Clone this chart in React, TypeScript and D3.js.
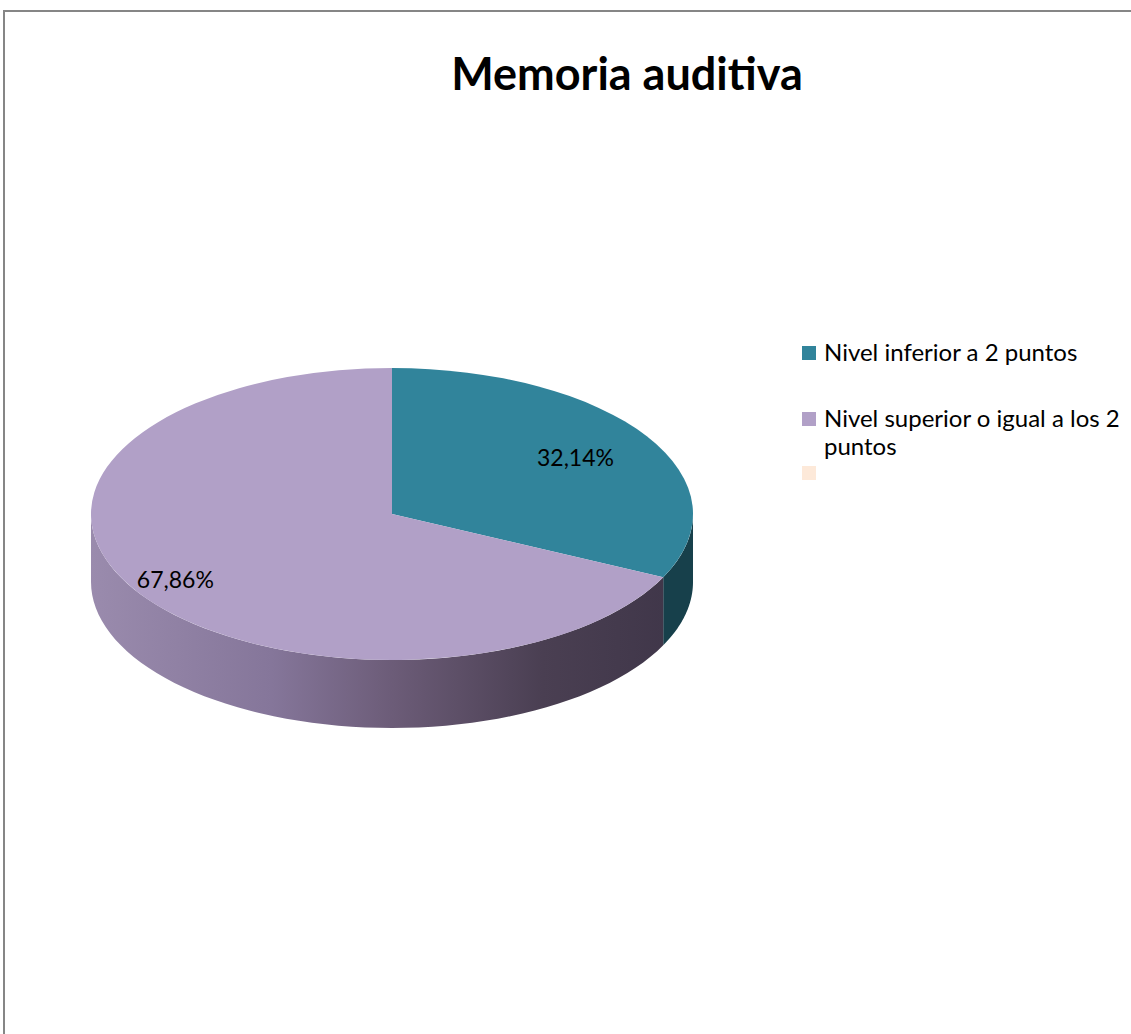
import React from 'react';
import * as d3 from 'd3';

const title = 'Memoria auditiva';
const categories = ['Nivel inferior a 2 puntos', 'Nivel superior o igual a los 2 puntos', ''];
const values = [32.14, 67.86, 0];
const labels = ['32,14%', '67,86%'];
const topColors = ['#31849B', '#B1A0C7', '#FDE9D9'];
const sideColors = ['#17404B', '#9A8BAD'];

const W = 1131;
const H = 1034;

const App = () => {
    const cx = 392;
    const cy = 514;
    const rx = 301;
    const ry = 146;
    const depth = 68;
    const labelRadius = [0.72, 0.85];

    const pie = d3.pie<number>().sort(null).value(d => d);
    const slices = pie(values).filter(s => s.value > 0);

    const arc = d3.arc<d3.PieArcDatum<number>>().innerRadius(0).outerRadius(rx);

    // point on the ellipse, angle measured clockwise from 12 o'clock
    const pt = (a: number, dy = 0): [number, number] => [
        cx + rx * Math.sin(a),
        cy - ry * Math.cos(a) + dy,
    ];

    const line = d3.line();

    // visible side walls: front half of the cylinder (pi/2 .. 3pi/2)
    const sides = slices.map((s, i) => {
        const a0 = Math.max(s.startAngle, Math.PI / 2);
        const a1 = Math.min(s.endAngle, (3 * Math.PI) / 2);
        if (a1 <= a0) return null;
        const steps = d3.range(0, 61).map(k => a0 + ((a1 - a0) * k) / 60);
        const topPts = steps.map(a => pt(a));
        const botPts = steps.slice().reverse().map(a => pt(a, depth));
        return { i, d: line([...topPts, ...botPts])! + 'Z' };
    }).filter(Boolean) as { i: number; d: string }[];

    const legendX = 802;
    const legendRows = [353, 419, 473];

    return (
        <svg width={W} height={H} style={{ position: 'absolute', left: 0, top: 0, background: '#fff' }}
            fontFamily="Lato, 'Noto Sans', sans-serif">
            <defs>
                <linearGradient id="lavSide" gradientUnits="userSpaceOnUse" x1={cx - rx} x2={cx + rx} y1={0} y2={0}>
                    <stop offset="0" stopColor="#9A8BAD" />
                    <stop offset="0.3" stopColor="#85769A" />
                    <stop offset="0.5" stopColor="#6C5C78" />
                    <stop offset="0.75" stopColor="#4A3F52" />
                    <stop offset="1" stopColor="#3E3548" />
                </linearGradient>
            </defs>
            <rect x={4} y={11} width={W + 10} height={H + 10} fill="none" stroke="#868686" strokeWidth={2} />
            <text x={627} y={90} textAnchor="middle" fontSize={45} fontWeight="bold" fill="#000">{title}</text>

            <g>
                {sides.map(s => (
                    <path key={s.i} d={s.d} fill={s.i === 1 ? 'url(#lavSide)' : sideColors[s.i]} />
                ))}
                <g transform={`translate(${cx},${cy}) scale(1,${ry / rx})`}>
                    {slices.map((s, i) => (
                        <path key={i} d={arc(s)!} fill={topColors[s.index]} />
                    ))}
                </g>
                {slices.map((s, i) => {
                    const mid = (s.startAngle + s.endAngle) / 2;
                    const r = labelRadius[s.index];
                    const x = cx + rx * r * Math.sin(mid);
                    const y = cy - ry * r * Math.cos(mid);
                    return (
                        <text key={i} x={x} y={y} dy="0.35em" textAnchor="middle" fontSize={23} fill="#000">
                            {labels[s.index]}
                        </text>
                    );
                })}
            </g>

            <g>
                {categories.map((c, i) => {
                    const y = legendRows[i];
                    const words = c === categories[1] ? ['Nivel superior o igual a los 2', 'puntos'] : [c];
                    return (
                        <g key={i}>
                            <rect x={legendX} y={y - 7} width={14} height={14} fill={topColors[i]} />
                            {words.map((w, j) => (
                                <text key={j} x={824} y={y + j * 28} dy="0.35em" fontSize={24} fill="#000">{w}</text>
                            ))}
                        </g>
                    );
                })}
            </g>
        </svg>
    );
};

export default App;
